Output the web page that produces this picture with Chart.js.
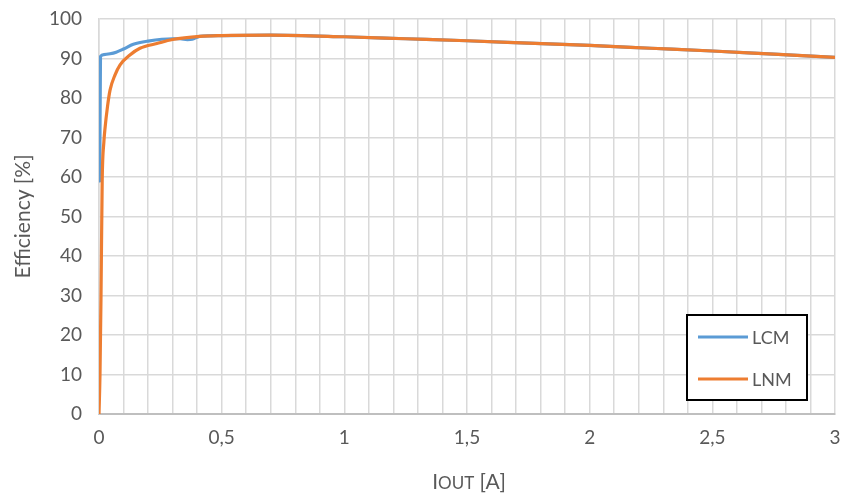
<!DOCTYPE html>
<html>
<head>
<meta charset="utf-8">
<script src="https://cdn.jsdelivr.net/npm/chart.js@4.4.1/dist/chart.umd.min.js"></script>
<style>
  html, body { margin: 0; padding: 0; background: #fff; }
  #wrap { width: 843px; height: 498px; position: relative; }
</style>
</head>
<body>
<div id="wrap"><canvas id="grafEficiencia"></canvas></div>
<script>
// current [A] and efficiency [%]
const lcmX = [0.003, 0.006, 0.02, 0.045, 0.07, 0.1, 0.14, 0.2, 0.3, 0.33, 0.36, 0.38, 0.41, 0.5, 0.7, 1, 1.25, 1.5, 1.75, 2, 2.25, 2.5, 2.75, 3];
const lcmY = [59, 90.5, 91, 91.2, 91.6, 92.4, 93.6, 94.4, 95.0, 95.0, 94.8, 94.9, 95.6, 95.8, 95.9, 95.5, 95.0, 94.5, 93.9, 93.3, 92.6, 91.9, 91.1, 90.3];

const lnmX = [0, 0.004, 0.008, 0.013, 0.02, 0.024, 0.035, 0.045, 0.065, 0.086, 0.126, 0.167, 0.236, 0.3, 0.41, 0.5, 0.7, 1, 1.25, 1.5, 1.75, 2, 2.25, 2.5, 2.75, 3];
const lnmY = [0, 10, 29, 59, 69, 72, 78, 82, 85.8, 88.4, 90.9, 92.6, 93.8, 94.8, 95.6, 95.8, 95.9, 95.5, 95.0, 94.5, 93.9, 93.3, 92.6, 91.9, 91.1, 90.3];

const serieNomes = ["LCM", "LNM"];
const serieCores = ["#5B9BD5", "#ED7D31"];

const xMin = 0, xMax = 3, xPasso = 0.1, xRotulo = 0.5;
const yMin = 0, yMax = 100, yPasso = 10;

const cinza = "#595959";
const fonte = "Lato";

function pontos(xs, ys) {
  return xs.map((x, i) => ({ x: x, y: ys[i] }));
}

// legend box inside the plot, like the original
const legendaCaixa = {
  id: "legendaCaixa",
  afterDraw(chart) {
    const ctx = chart.ctx;
    const a = chart.chartArea;
    const w = 120, h = 85;
    const x0 = a.right - 28 - w, y0 = a.bottom - 14 - h;
    ctx.save();
    ctx.fillStyle = "#fff";
    ctx.fillRect(x0, y0, w, h);
    ctx.strokeStyle = "#000";
    ctx.lineWidth = 2;
    ctx.strokeRect(x0, y0, w, h);
    ctx.font = "18px " + fonte;
    ctx.textBaseline = "middle";
    chart.data.datasets.forEach((ds, i) => {
      const yy = y0 + 22 + i * 42;
      ctx.strokeStyle = ds.borderColor;
      ctx.lineWidth = 3;
      ctx.beginPath();
      ctx.moveTo(x0 + 11, yy);
      ctx.lineTo(x0 + 61, yy);
      ctx.stroke();
      ctx.fillStyle = cinza;
      ctx.fillText(ds.label, x0 + 65, yy + 1);
    });
    ctx.restore();
  }
};

// x title with small caps "OUT"
const tituloX = {
  id: "tituloX",
  afterDraw(chart) {
    const ctx = chart.ctx;
    const a = chart.chartArea;
    const partes = [["I", 21], ["OUT", 17], [" [A]", 21]];
    ctx.save();
    ctx.fillStyle = cinza;
    ctx.textBaseline = "alphabetic";
    let total = 0;
    partes.forEach(p => { ctx.font = p[1] + "px " + fonte; total += ctx.measureText(p[0]).width; });
    let x = (a.left + a.right) / 2 + 2 - total / 2;
    partes.forEach(p => {
      ctx.font = p[1] + "px " + fonte;
      ctx.fillText(p[0], x, 489);
      x += ctx.measureText(p[0]).width;
    });
    ctx.restore();
  }
};

new Chart(document.getElementById("grafEficiencia"), {
  type: "line",
  data: {
    datasets: [
      {
        label: serieNomes[0],
        data: pontos(lcmX, lcmY),
        borderColor: serieCores[0],
        backgroundColor: serieCores[0],
        order: 1
      },
      {
        label: serieNomes[1],
        data: pontos(lnmX, lnmY),
        borderColor: serieCores[1],
        backgroundColor: serieCores[1],
        order: 0
      }
    ]
  },
  options: {
    responsive: true,
    maintainAspectRatio: false,
    animation: false,
    layout: { padding: { left: 0, right: 8, top: 19, bottom: 0 } },
    elements: {
      point: { radius: 0 },
      line: { borderWidth: 3.2, cubicInterpolationMode: "monotone", borderCapStyle: "round" }
    },
    plugins: {
      legend: { display: false },
      tooltip: { enabled: false }
    },
    scales: {
      x: {
        type: "linear",
        min: xMin,
        max: xMax,
        afterBuildTicks(scale) {
          const t = [];
          for (let i = 0; i <= Math.round((xMax - xMin) / xPasso); i++) {
            t.push({ value: Math.round((xMin + i * xPasso) * 10) / 10 });
          }
          scale.ticks = t;
        },
        afterFit(scale) {
          scale.height = 84;
          scale.paddingLeft = 0;
          scale.paddingRight = 0;
        },
        ticks: {
          autoSkip: false,
          maxRotation: 0,
          padding: 12,
          color: cinza,
          font: { family: fonte, size: 19 },
          callback(v) {
            const r = v / xRotulo;
            if (Math.abs(r - Math.round(r)) > 1e-6) return "";
            return String(Math.round(v * 10) / 10).replace(".", ",");
          }
        },
        grid: { color: "#d9d9d9", lineWidth: 1.5, drawTicks: false },
        border: { color: "#bfbfbf", width: 2 }
      },
      y: {
        min: yMin,
        max: yMax,
        afterFit(scale) {
          scale.width = 99;
          scale.paddingTop = 0;
          scale.paddingBottom = 0;
        },
        ticks: {
          stepSize: yPasso,
          padding: 17,
          color: cinza,
          font: { family: fonte, size: 19 }
        },
        title: {
          display: true,
          text: "Efficiency [%]",
          color: cinza,
          font: { family: fonte, size: 21 },
          padding: { top: 11, bottom: 0 }
        },
        grid: { color: "#d9d9d9", lineWidth: 1.5, drawTicks: false },
        border: { color: "#d9d9d9", width: 1.5 }
      }
    }
  },
  plugins: [legendaCaixa, tituloX]
});
</script>
</body>
</html>
